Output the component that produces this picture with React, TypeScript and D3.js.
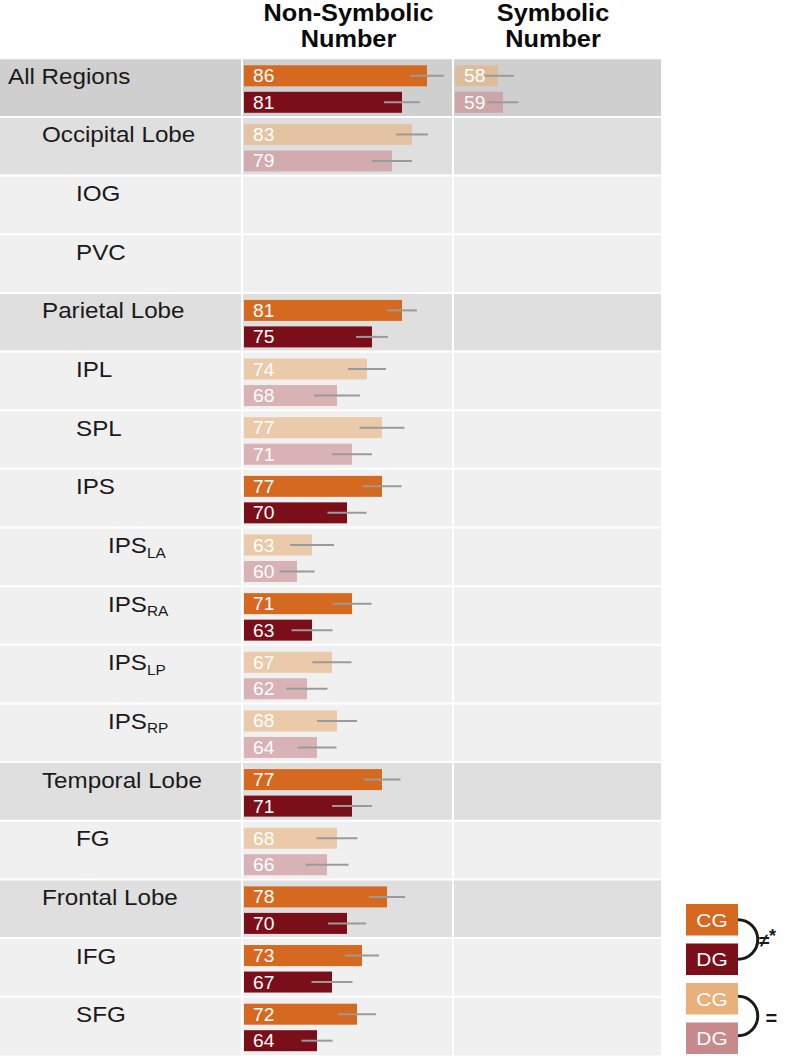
import React from "react";
import * as d3 from "d3";

// ---------- data ----------
const regions = ["All Regions", "Occipital Lobe", "IOG", "PVC", "Parietal Lobe", "IPL", "SPL", "IPS", "IPS", "IPS", "IPS", "IPS", "Temporal Lobe", "FG", "Frontal Lobe", "IFG", "SFG"];
const subscripts = ["", "", "", "", "", "", "", "", "LA", "RA", "LP", "RP", "", "", "", "", ""];
const levels = [0, 1, 2, 2, 1, 2, 2, 2, 3, 3, 3, 3, 1, 2, 1, 2, 2];

const nonSymCG: (number | null)[] = [86, 83, null, null, 81, 74, 77, 77, 63, 71, 67, 68, 77, 68, 78, 73, 72];
const nonSymDG: (number | null)[] = [81, 79, null, null, 75, 68, 71, 70, 60, 63, 62, 64, 71, 66, 70, 67, 64];
const nonSymCGErr: (number | null)[] = [3.4, 3.2, null, null, 3.0, 3.8, 4.5, 3.9, 4.4, 3.9, 3.9, 4.0, 3.7, 4.1, 3.6, 3.4, 3.8];
const nonSymDGErr: (number | null)[] = [3.6, 4.0, null, null, 3.2, 4.6, 4.0, 3.9, 3.5, 4.1, 4.1, 3.9, 4.0, 4.3, 3.8, 4.1, 3.1];
const nonSymSig: (boolean | null)[] = [true, false, null, null, true, false, false, true, false, true, false, false, true, false, true, true, true];

const symCG: (number | null)[] = [58, null, null, null, null, null, null, null, null, null, null, null, null, null, null, null, null];
const symDG: (number | null)[] = [59, null, null, null, null, null, null, null, null, null, null, null, null, null, null, null, null];
const symCGErr: (number | null)[] = [3.2, null, null, null, null, null, null, null, null, null, null, null, null, null, null, null, null];
const symDGErr: (number | null)[] = [3.1, null, null, null, null, null, null, null, null, null, null, null, null, null, null, null, null];
const symSig: (boolean | null)[] = [false, null, null, null, null, null, null, null, null, null, null, null, null, null, null, null, null];

const columnTitles = [["Non-Symbolic", "Number"], ["Symbolic", "Number"]];
const legendGroups = ["CG", "DG"];
const legendSymbols = ["≠", "="];

// ---------- style ----------
const W = 787, H = 1058;
const FONT = "'Liberation Sans', Arial, sans-serif";
const colCG = "#D4691F";
const colDG = "#7A0E19";
const colCGLight = "#E8B07A";
const colDGLight = "#C8898D";
const rowBg = ["#cfcfcf", "#dfdfdf", "#f0f0f0", "#f0f0f0"];
const labelX = [8, 42, 76, 108];
const SX = 1.1;

const tableTop = 58.3;
const rowH = 58.65;
const tableRight = 661;
const colBounds = [[242, 453], [453, 661]];

export default function App() {
  const y = d3.scaleBand<number>()
    .domain(d3.range(regions.length))
    .range([tableTop, tableTop + rowH * regions.length])
    .paddingInner(0);

  const xCol = colBounds.map(([a]) =>
    d3.scaleLinear().domain([49.4, 91.6]).range([a + 2, a + 2 + 211])
  );

  const barTop1 = 7, barTop2 = 33.5, barH = 21;

  const columns = [
    { cg: nonSymCG, dg: nonSymDG, cgE: nonSymCGErr, dgE: nonSymDGErr, sig: nonSymSig },
    { cg: symCG, dg: symDG, cgE: symCGErr, dgE: symDGErr, sig: symSig },
  ];

  const bar = (key: string, xs: d3.ScaleLinear<number, number>, v: number, e: number, top: number, fill: string, opacity: number) => {
    const x0 = xs.range()[0];
    const cy = top + barH / 2;
    return (
      <g key={key}>
        <rect x={x0} y={top} width={xs(v) - x0} height={barH} fill={fill} fillOpacity={opacity} />
        <line x1={xs(v - e)} x2={xs(v + e)} y1={cy} y2={cy} stroke="#9a9a9a" strokeWidth={2} />
        <text transform={`translate(${x0 + 9},${cy + 6.5}) scale(${SX},1)`} fontFamily={FONT} fontSize={17.5} fill="#ffffff">{v}</text>
      </g>
    );
  };

  return (
    <svg width={W} height={H} style={{ position: "absolute", left: 0, top: 0, display: "block", background: "#ffffff" }}>
      {/* headers */}
      {columnTitles.map((lines, ci) => {
        const cx = ci === 0 ? (colBounds[0][0] + colBounds[0][1]) / 2 + 1 : (colBounds[1][0] + colBounds[1][1]) / 2 - 4;
        return lines.map((t, li) => (
          <text key={`h${ci}${li}`} transform={`translate(${cx},${20.7 + li * 26}) scale(${SX},1)`} textAnchor="middle"
            fontFamily={FONT} fontWeight="bold" fontSize={23} fill="#0a0a0a">{t}</text>
        ));
      })}

      {/* row backgrounds */}
      {regions.map((_, i) => (
        <rect key={`bg${i}`} x={0} y={y(i)!} width={tableRight} height={y.bandwidth()} fill={rowBg[levels[i]]} />
      ))}
      {/* separators */}
      {regions.map((_, i) => (
        <line key={`sep${i}`} x1={0} x2={tableRight} y1={y(i)!} y2={y(i)!} stroke="#ffffff" strokeWidth={2} />
      ))}
      {colBounds.map(([a], ci) => (
        <line key={`vs${ci}`} x1={a} x2={a} y1={tableTop} y2={tableTop + rowH * regions.length} stroke="#ffffff" strokeWidth={2} />
      ))}

      {/* labels */}
      {regions.map((r, i) => (
        <text key={`lab${i}`} transform={`translate(${labelX[levels[i]]},${y(i)! + 25.5}) scale(${SX},1)`}
          fontFamily={FONT} fontSize={22} fill="#1a1a1a">
          <tspan>{r}</tspan>
          {subscripts[i] ? <tspan fontSize={14} dy={4.5}>{subscripts[i]}</tspan> : null}
        </text>
      ))}

      {/* bars */}
      {columns.map((c, ci) =>
        regions.map((_, i) => {
          const cg = c.cg[i], dg = c.dg[i];
          if (cg == null || dg == null) return null;
          const sig = c.sig[i];
          const top = y(i)!;
          return (
            <g key={`b${ci}-${i}`}>
              {bar("cg", xCol[ci], cg, c.cgE[i] as number, top + barTop1, sig ? colCG : colCGLight, sig ? 1 : 0.6)}
              {bar("dg", xCol[ci], dg, c.dgE[i] as number, top + barTop2, sig ? colDG : colDGLight, sig ? 1 : 0.6)}
            </g>
          );
        })
      )}

      {/* legend */}
      {[0, 1].map((gi) => {
        const tops = gi === 0 ? [904, 943.5] : [983, 1022.5];
        const cols = gi === 0 ? [colCG, colDG] : [colCGLight, colDGLight];
        const bx = 686, bw = 52, bh = 31.5;
        const yA = tops[0] + bh / 2 + (gi === 0 ? 0 : -2.5);
        const yB = tops[1] + bh / 2 + (gi === 0 ? 0 : -2.5);
        const r = (yB - yA) / 2;
        return (
          <g key={`lg${gi}`}>
            {legendGroups.map((g, k) => (
              <g key={g}>
                <rect x={bx} y={tops[k]} width={bw} height={bh} fill={cols[k]} />
                <text transform={`translate(${bx + bw / 2},${tops[k] + bh / 2 + 7}) scale(${SX},1)`} textAnchor="middle"
                  fontFamily={FONT} fontSize={19} fill="#ffffff">{g}</text>
              </g>
            ))}
            <path d={`M${bx + bw},${yA} A${r},${r} 0 0 1 ${bx + bw},${yB}`} fill="none" stroke="#1a1a1a" strokeWidth={3} />
            {gi === 0 ? (
              <g>
                <text x={759} y={947} fontFamily={FONT} fontWeight="bold" fontSize={19} fill="#1a1a1a">{legendSymbols[0]}</text>
                <text x={769} y={942} fontFamily={FONT} fontWeight="bold" fontSize={18} fill="#1a1a1a">*</text>
              </g>
            ) : (
              <text x={765.5} y={1025} fontFamily={FONT} fontWeight="bold" fontSize={20} fill="#1a1a1a">{legendSymbols[1]}</text>
            )}
          </g>
        );
      })}
    </svg>
  );
}
